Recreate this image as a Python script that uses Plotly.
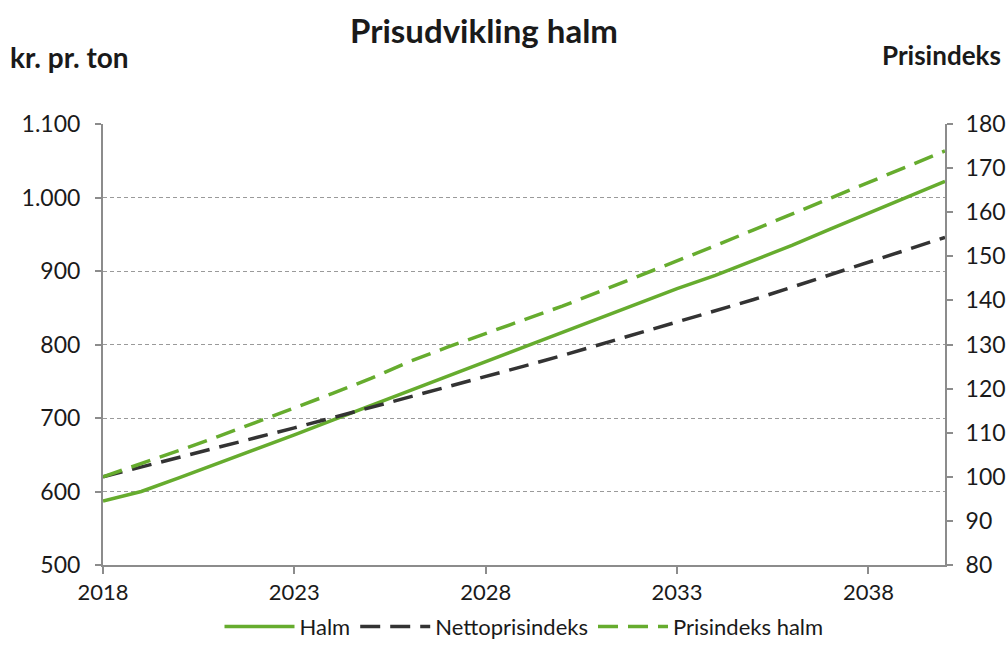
import plotly.graph_objects as go

years = list(range(2018, 2041))
halm = [587, 600, 619, 638, 657, 677, 697, 717, 736, 756, 776, 797,
        817, 837, 857, 876, 894, 914, 935, 957, 979, 1000, 1022]
netto = [100, 102.2, 104.3, 106.5, 108.8, 111.1, 113.4, 115.7, 118.0, 120.3,
         122.7, 125.1, 127.5, 130.0, 132.5, 135.0, 137.6, 140.2, 143.0, 145.8,
         148.7, 151.5, 154.3]
prisindeks_halm = [100, 102.9, 106.0, 109.1, 112.3, 115.6, 118.9, 122.3, 126.1,
                   129.4, 132.5, 135.6, 138.7, 142.1, 145.5, 148.9, 152.4,
                   156.0, 159.6, 163.3, 166.9, 170.4, 173.9]
x_ticks = [2018, 2023, 2028, 2033, 2038]
left_ticks = [500, 600, 700, 800, 900, 1000, 1100]
right_ticks = list(range(80, 181, 10))

GREEN = "#66AC2E"
DARK = "#333333"
AXIS = "#8c8c8c"
FONT = "Lato"
TXT = "#1a1a1a"

fig = go.Figure()
fig.add_trace(go.Scatter(x=years, y=halm, name="Halm", mode="lines",
                         line=dict(color=GREEN, width=3.5), yaxis="y"))
fig.add_trace(go.Scatter(x=years, y=netto, name="Nettoprisindeks", mode="lines",
                         line=dict(color=DARK, width=3.5, dash="20px,10px"), yaxis="y2"))
fig.add_trace(go.Scatter(x=years, y=prisindeks_halm, name="Prisindeks halm", mode="lines",
                         line=dict(color=GREEN, width=3.5, dash="20px,10px"), yaxis="y2"))

fig.update_layout(
    width=1008, height=666,
    margin=dict(l=103, r=63, t=124, b=101, autoexpand=False),
    paper_bgcolor="white", plot_bgcolor="white",
    separators=",.",
    font=dict(family=FONT, size=23, color=TXT),
    showlegend=True,
    legend=dict(orientation="h", x=0.5, xanchor="center", y=-0.14, yanchor="middle",
                font=dict(size=22, color=TXT), itemwidth=70, traceorder="normal"),
    xaxis=dict(range=[2018, 2040], tickvals=x_ticks, showgrid=False,
               showline=True, linecolor=AXIS, linewidth=2, ticks="outside",
               ticklen=7, tickcolor=AXIS, tickwidth=2, zeroline=False,
               automargin=False, tickfont=dict(size=22)),
    yaxis=dict(range=[500, 1100], tickvals=left_ticks, separatethousands=True,
               tickformat=",d", showgrid=True, gridcolor="#9a9a9a", griddash="4px,3px",
               gridwidth=1.4, showline=True, linecolor=AXIS, linewidth=2,
               ticks="outside", ticklen=6, tickcolor=AXIS, tickwidth=2, zeroline=False,
               ticklabelstandoff=10, automargin=False),
    yaxis2=dict(range=[80, 180], tickvals=right_ticks, overlaying="y", side="right",
                showgrid=False, showline=True, linecolor=AXIS, linewidth=2,
                ticks="outside", ticklen=6, tickcolor=AXIS, tickwidth=2, zeroline=False,
                ticklabelstandoff=8, automargin=False),
    annotations=[
        dict(text="<b>Prisudvikling halm</b>", xref="paper", yref="paper",
             x=(484 - 103) / 842, y=(565 - 30) / 441, xanchor="center", yanchor="middle",
             showarrow=False, font=dict(size=33, family=FONT, color=TXT)),
        dict(text="<b>kr. pr. ton</b>", xref="paper", yref="paper",
             x=(8 - 103) / 842, y=(565 - 57) / 441, xanchor="left", yanchor="middle",
             showarrow=False, font=dict(size=28, family=FONT, color=TXT)),
        dict(text="<b>Prisindeks</b>", xref="paper", yref="paper",
             x=(1003 - 103) / 842, y=(565 - 55) / 441, xanchor="right", yanchor="middle",
             showarrow=False, font=dict(size=26, family=FONT, color=TXT)),
    ],
)

fig.write_html("out.html")
